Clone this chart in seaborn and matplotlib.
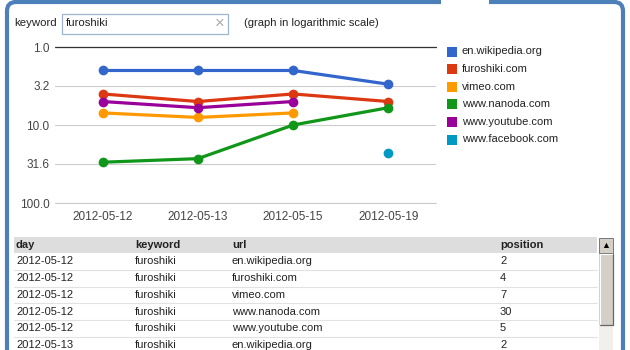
import numpy as np
import pandas as pd
import matplotlib
matplotlib.use("Agg")
import matplotlib.pyplot as plt
from matplotlib.patches import Rectangle, FancyBboxPatch
from matplotlib.ticker import NullLocator
import seaborn as sns

# ---------------- data ----------------
keyword = "furoshiki"
dates = ["2012-05-12", "2012-05-13", "2012-05-15", "2012-05-19"]
urls = ["en.wikipedia.org", "furoshiki.com", "vimeo.com",
        "www.nanoda.com", "www.youtube.com", "www.facebook.com"]
pos_wikipedia = [2, 2, 2, 3]
pos_furoshiki = [4, 5, 4, 5]
pos_vimeo = [7, 8, 7, None]
pos_nanoda = [30, 27, 10, 6]
pos_youtube = [5, 6, 5, None]
pos_facebook = [None, None, None, 23]
colors = ["#3366cc", "#dc3912", "#ff9900", "#109618", "#990099", "#0099c6"]
ytick_vals = [1.0, 3.16, 10.0, 31.6, 100.0]
ytick_labels = ["1.0", "3.2", "10.0", "31.6", "100.0"]
table_headers = ["day", "keyword", "url", "position"]

series = [pos_wikipedia, pos_furoshiki, pos_vimeo, pos_nanoda, pos_youtube, pos_facebook]
records = []
for d_i, d in enumerate(dates):
    for u, s in zip(urls, series):
        if s[d_i] is not None:
            records.append({"xi": d_i, "day": d, "keyword": keyword, "url": u, "position": s[d_i]})
df = pd.DataFrame(records)

# ---------------- style ----------------
sns.set_style("white")
plt.rcParams["font.family"] = ["Liberation Sans", "DejaVu Sans"]

W, H = 630, 350
fig = plt.figure(figsize=(W / 100, H / 100), dpi=100)
fig.patch.set_facecolor("white")

# background / chrome axes in pixel coordinates
bg = fig.add_axes([0, 0, 1, 1], zorder=0)
bg.set_xlim(0, W)
bg.set_ylim(H, 0)
bg.axis("off")

blue = "#4d80b9"
frame = FancyBboxPatch((7, 2), 616, 420, boxstyle="round,pad=0,rounding_size=9",
                       linewidth=3.0, edgecolor=blue, facecolor="white")
bg.add_patch(frame)
bg.add_patch(Rectangle((441, -1), 48, 6.5, facecolor="white", edgecolor="none"))

# keyword input row
bg.text(14, 23.5, "keyword", fontsize=8.2, color="#222222", va="center", ha="left")
bg.add_patch(Rectangle((62, 13.5), 166, 20.5, facecolor="white", edgecolor="#9fb6cf", lw=0.9))
bg.text(66, 23.5, keyword, fontsize=8.2, color="#222222", va="center", ha="left")
bg.text(220, 23.5, "\u00d7", fontsize=12, color="#aaaaaa", va="center", ha="center")
bg.text(244, 23.5, "(graph in logarithmic scale)", fontsize=8.0, color="#222222",
        va="center", ha="left")

# ---------------- chart ----------------
ax = fig.add_axes([55 / W, (H - 203) / H, 381 / W, 156 / H], zorder=2)
ax.patch.set_alpha(0)
sns.lineplot(data=df, x="xi", y="position", hue="url", hue_order=urls, palette=colors,
             marker="o", markersize=7, markeredgewidth=0, linewidth=2.3,
             estimator=None, sort=True, legend=False, ax=ax)
ax.set_yscale("log")
ax.set_ylim(100, 1)
ax.set_yticks(ytick_vals)
ax.set_yticklabels(ytick_labels)
ax.yaxis.set_minor_locator(NullLocator())
ax.set_xlim(-0.5, len(dates) - 0.5)
ax.set_xticks(range(len(dates)))
ax.set_xticklabels(dates)
ax.set_xlabel("")
ax.set_ylabel("")
for sp in ax.spines.values():
    sp.set_visible(False)
ax.grid(axis="y", color="#cccccc", lw=0.8)
ax.grid(axis="x", visible=False)
ax.set_axisbelow(True)
ax.axhline(100.0, color="#cccccc", lw=0.8, clip_on=False, zorder=0.5)
ax.axhline(1.0, color="#333333", lw=0.9, clip_on=False, zorder=1)
ax.tick_params(axis="both", length=0, labelsize=8.5, labelcolor="#444444")
ax.tick_params(axis="y", pad=4)
ax.tick_params(axis="x", pad=5.5)

# legend (manual, pixel positions)
for i, (u, c) in enumerate(zip(urls, colors)):
    y = 51.5 + i * 17.6
    bg.add_patch(Rectangle((447, y - 5), 10, 10, facecolor=c, edgecolor="none"))
    bg.text(462, y, u, fontsize=8.0, color="#222222", va="center", ha="left")

# ---------------- table ----------------
col_x = [16, 135, 232, 500]
bg.add_patch(Rectangle((14, 237), 583, 16, facecolor="#dddddd", edgecolor="none"))
for hx, h in zip(col_x, table_headers):
    bg.text(hx, 245.5, h, fontsize=8.0, fontweight="bold", color="#222222",
            va="center", ha="left")
row_h = 16.7
for i, rec in enumerate(records[:6]):
    yc = 261.5 + i * row_h
    vals = [rec["day"], rec["keyword"], rec["url"], str(rec["position"])]
    for hx, v in zip(col_x, vals):
        bg.text(hx, yc, v, fontsize=8.0, color="#222222", va="center", ha="left")
    bg.plot([14, 597], [yc + row_h / 2, yc + row_h / 2], color="#e2e2e2", lw=0.8)

# scrollbar
sb_face = "#d4d0c8"
bg.add_patch(Rectangle((599, 325), 14, 30, facecolor="#f1f0ec", edgecolor="none",
                       hatch="....", linewidth=0))
bg.add_patch(Rectangle((599, 238), 14, 15, facecolor=sb_face, edgecolor="#777777", lw=0.7))
bg.text(606, 245.5, "\u25b2", fontsize=6.5, color="black", va="center", ha="center")
bg.add_patch(Rectangle((599, 253.5), 14, 71, facecolor=sb_face, edgecolor="none"))
bg.plot([599.5, 599.5, 612.5], [324.5, 253.8, 253.8], color="white", lw=0.8)
bg.plot([599.5, 612.5, 612.5], [324.5, 324.5, 253.8], color="#666666", lw=0.9)

fig.savefig("out.png", dpi=100)
